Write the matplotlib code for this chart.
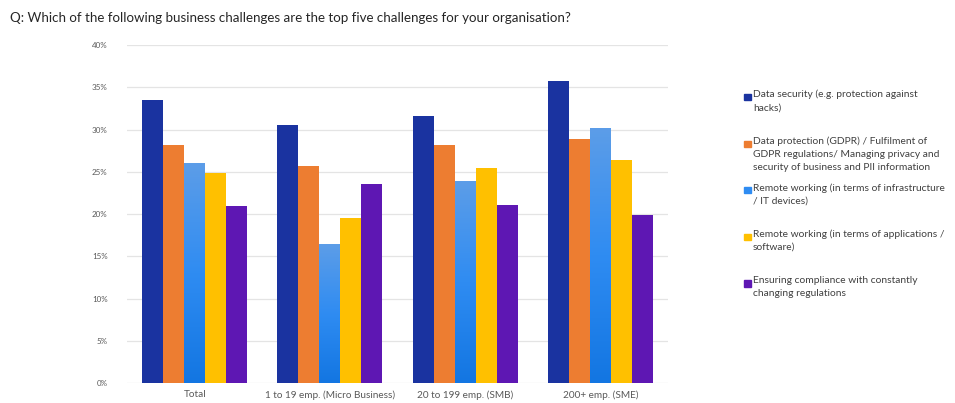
import matplotlib
matplotlib.use("Agg")
import matplotlib.pyplot as plt
import numpy as np
from matplotlib.colors import LinearSegmentedColormap
from matplotlib.patches import Rectangle

plt.rcParams['font.family'] = ['Lato', 'DejaVu Sans']

title = "Q: Which of the following business challenges are the top five challenges for your organisation?"
groups = ["Total", "1 to 19 emp. (Micro Business)", "20 to 199 emp. (SMB)", "200+ emp. (SME)"]
series = [
    "Data security (e.g. protection against\nhacks)",
    "Data protection (GDPR) / Fulfilment of\nGDPR regulations/ Managing privacy and\nsecurity of business and PII information",
    "Remote working (in terms of infrastructure\n/ IT devices)",
    "Remote working (in terms of applications /\nsoftware)",
    "Ensuring compliance with constantly\nchanging regulations",
]
data_security = [33.5, 30.5, 31.6, 35.7]
data_protection = [28.2, 25.7, 28.2, 28.9]
remote_infra = [26.0, 16.4, 23.9, 30.2]
remote_apps = [24.9, 19.5, 25.4, 26.4]
compliance = [20.9, 23.6, 21.1, 19.9]
values = [data_security, data_protection, remote_infra, remote_apps, compliance]
colors = ["#1a33a0", "#ed7d31", "#3b8ff0", "#ffc000", "#5e17b3"]

fig = plt.figure(figsize=(9.55, 4.03), dpi=100)
ax = fig.add_axes([0.133, 0.0496, 0.5665, 0.8387])

x = np.arange(len(groups))
w = 0.155
grad = LinearSegmentedColormap.from_list("blu", ["#1376e2", "#2f8cf2", "#5c9de8"])
for i, vals in enumerate(values):
    bars = ax.bar(x + (i - 2) * w, vals, w, color=colors[i], zorder=2, linewidth=0)
    if i == 2:
        # vertical gradient fill for the infrastructure series
        for b in bars:
            x0, y0 = b.get_x(), b.get_y()
            im = ax.imshow(np.linspace(0, 1, 100).reshape(-1, 1), cmap=grad, origin="lower",
                           extent=[x0, x0 + b.get_width(), y0, y0 + b.get_height()],
                           aspect="auto", zorder=3)
            im.set_clip_path(b)

ax.set_xlim(-0.5, len(groups) - 0.5)
ax.set_ylim(0, 40)
ax.set_yticks(np.arange(0, 41, 5))
ax.set_yticklabels([f"{v}%" for v in range(0, 41, 5)])
ax.set_xticks(x)
ax.set_xticklabels(groups)
ax.grid(axis="y", color="#e4e4e4", linewidth=0.9, zorder=0)
ax.set_axisbelow(True)
for s in ax.spines.values():
    s.set_visible(False)
ax.tick_params(axis="both", length=0, colors="#595959", labelsize=5.8)
ax.tick_params(axis="y", pad=14)
ax.tick_params(axis="x", pad=5, labelsize=7.2)

fig.text(0.0105, 0.955, title, fontsize=9.6, color="#262626", va="center", ha="left")

# legend entries sit in fixed-height slots
leg_top = 0.774
slot = 0.1155
for i, name in enumerate(series):
    ytop = leg_top - i * slot
    fig.patches.append(Rectangle((0.7795, ytop - 0.023), 0.0065, 0.0155, transform=fig.transFigure,
                                 color=colors[i] if i != 2 else "#2f8cf2", figure=fig))
    fig.text(0.7885, ytop + 0.003, name, fontsize=7.4, color="#404040", va="top", ha="left",
             linespacing=1.55)

fig.savefig("out.png", dpi=100, facecolor="white")
